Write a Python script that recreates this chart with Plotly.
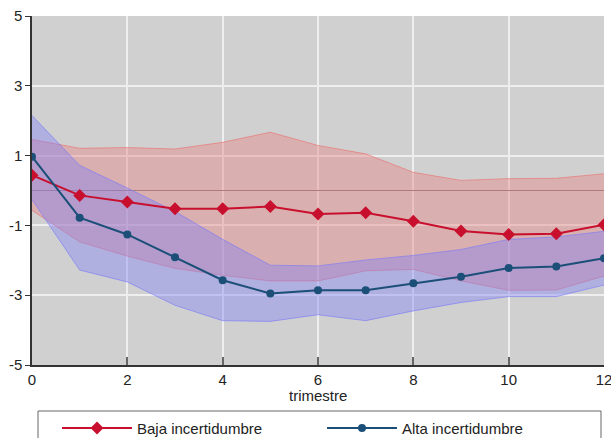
import plotly.graph_objects as go

trimestre = list(range(13))

baja = [0.44, -0.14, -0.33, -0.52, -0.52, -0.46, -0.67, -0.64, -0.88, -1.16, -1.26, -1.24, -0.98]
baja_hi = [1.46, 1.21, 1.23, 1.19, 1.38, 1.67, 1.29, 1.05, 0.52, 0.29, 0.34, 0.35, 0.48]
baja_lo = [-0.57, -1.47, -1.88, -2.23, -2.43, -2.59, -2.59, -2.30, -2.26, -2.59, -2.86, -2.85, -2.45]

alta = [0.97, -0.78, -1.26, -1.91, -2.57, -2.95, -2.86, -2.86, -2.66, -2.47, -2.22, -2.18, -1.94]
alta_hi = [2.15, 0.72, 0.07, -0.60, -1.40, -2.14, -2.16, -1.99, -1.86, -1.69, -1.40, -1.33, -1.17]
alta_lo = [-0.26, -2.28, -2.62, -3.29, -3.73, -3.75, -3.56, -3.73, -3.45, -3.21, -3.04, -3.04, -2.71]

y_ticks = [5, 3, 1, -1, -3, -5]
y_ticklabels = ["5", "3", "1", "-1", "-3", "-5"]
x_ticks = [0, 2, 4, 6, 8, 10, 12]

red = "#C8102E"
blue = "#1B4F78"
red_fill = "rgba(232,128,128,0.42)"
red_edge = "rgba(235,110,110,0.6)"
blue_fill = "rgba(128,128,245,0.42)"
blue_edge = "rgba(120,120,250,0.6)"

fig = go.Figure()
fig.add_trace(go.Scatter(x=trimestre, y=baja_hi, mode="lines", line=dict(color=red_edge, width=1),
                         showlegend=False, hoverinfo="skip"))
fig.add_trace(go.Scatter(x=trimestre, y=baja_lo, mode="lines", line=dict(color=red_edge, width=1),
                         fill="tonexty", fillcolor=red_fill, showlegend=False, hoverinfo="skip"))
fig.add_trace(go.Scatter(x=trimestre, y=alta_hi, mode="lines", line=dict(color=blue_edge, width=1),
                         showlegend=False, hoverinfo="skip"))
fig.add_trace(go.Scatter(x=trimestre, y=alta_lo, mode="lines", line=dict(color=blue_edge, width=1),
                         fill="tonexty", fillcolor=blue_fill, showlegend=False, hoverinfo="skip"))

fig.add_trace(go.Scatter(x=trimestre, y=baja, mode="lines+markers", name="Baja incertidumbre",
                         line=dict(color=red, width=2),
                         marker=dict(symbol="diamond", size=10, color=red)))
fig.add_trace(go.Scatter(x=trimestre, y=alta, mode="lines+markers", name="Alta incertidumbre",
                         line=dict(color=blue, width=2),
                         marker=dict(symbol="circle", size=8, color=blue)))

# legend frame (plot area spans 32..604 px horizontally, 16..365 px vertically)
fig.add_shape(type="rect", xref="paper", yref="paper",
              x0=(38 - 32) / 572, x1=(601 - 32) / 572,
              y0=-(445 - 365) / 349, y1=-(411 - 365) / 349,
              line=dict(color="#666666", width=1), fillcolor="white", layer="above")

# x-axis title
fig.add_annotation(text="trimestre", xref="paper", yref="paper", x=0.5, y=-(395 - 365) / 349,
                   xanchor="center", yanchor="middle", showarrow=False,
                   font=dict(size=15, color="#222222"))

fig.update_layout(
    width=611, height=438,
    margin=dict(l=32, r=7, t=16, b=73, autoexpand=False),
    paper_bgcolor="white",
    plot_bgcolor="#D0D0D0",
    font=dict(family="Liberation Sans, Arial, sans-serif", size=15, color="#222222"),
    xaxis=dict(range=[0, 12], tickvals=x_ticks, showgrid=True, gridcolor="#EEEEEE", gridwidth=1.5,
               showline=True, linecolor="#333333", linewidth=1.5,
               ticks="inside", ticklen=8, tickcolor="#666666", tickwidth=1.5,
               zeroline=False, automargin=False, ticklabeloverflow="allow"),
    yaxis=dict(range=[-5, 5], tickvals=y_ticks, ticktext=y_ticklabels, showgrid=True,
               gridcolor="#EEEEEE", gridwidth=1.5,
               showline=True, linecolor="#333333", linewidth=1.5,
               ticks="outside", ticklen=5, tickcolor="#333333", tickwidth=1.2,
               zeroline=True, zerolinecolor="#857878", zerolinewidth=1.2, automargin=False),
    legend=dict(orientation="h", x=0.0437, xanchor="left", y=-0.134, yanchor="top",
                traceorder="normal", itemwidth=70,
                borderwidth=0, bgcolor="rgba(0,0,0,0)",
                entrywidth=180, entrywidthmode="pixels", font=dict(size=15)),
)

fig.write_html("out.html", config={"displayModeBar": False},
               post_script="document.body.style.margin='0';document.body.style.overflow='hidden';")
